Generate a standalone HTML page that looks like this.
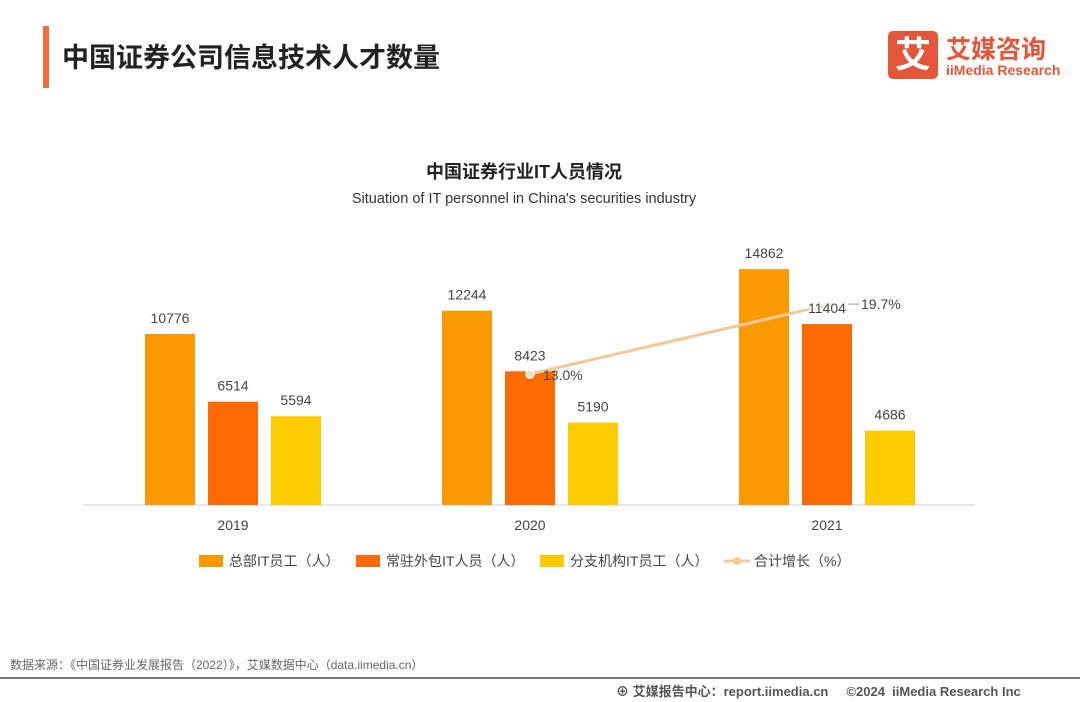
<!DOCTYPE html>
<html><head><meta charset="utf-8"><style>
body{margin:0;width:1080px;height:702px;background:#fff;font-family:"Liberation Sans","Noto Sans CJK SC",sans-serif;overflow:hidden;position:relative}
.a{position:absolute;white-space:nowrap}
</style></head><body>
<div class="a" style="left:43px;top:26px;width:6px;height:62px;background:#f26c3a"></div>
<div class="a" style="left:62px;top:36px;font-size:27px;font-weight:bold;color:#222">中国证券公司信息技术人才数量</div>
<div class="a" style="left:888px;top:31px;width:50px;height:48px;background:#e5553a;border-radius:5px;color:#fff;font-size:36px;font-weight:bold;text-align:center;line-height:48px">艾</div>
<div class="a" style="left:946px;top:30px;font-size:25px;font-weight:bold;color:#e5553a">艾媒咨询</div>
<div class="a" style="left:946px;top:62px;font-size:14px;font-weight:bold;color:#e5553a">iiMedia Research</div>
<div class="a" style="left:0;width:1048px;text-align:center;top:158px;font-size:18px;font-weight:bold;color:#222">中国证券行业IT人员情况</div>
<div class="a" style="left:0;width:1048px;text-align:center;top:191px;font-size:14.5px;color:#333">Situation of IT personnel in China's securities industry</div>
<svg class="a" style="left:0;top:0" width="1080" height="702">
<g id="g"></g>
</svg>
<div class="a" style="left:10px;top:656px;font-size:12px;color:#666">数据来源：《中国证券业发展报告（2022）》，艾媒数据中心（data.iimedia.cn）</div>
<div class="a" style="left:0;top:677px;width:1080px;height:2px;background:#777"></div>
<div class="a" style="left:616px;top:681px;font-size:13px;font-weight:bold;color:#555">⊕ 艾媒报告中心：report.iimedia.cn &nbsp;&nbsp;&nbsp; ©2024 &nbsp;iiMedia Research Inc</div>
<script>
const years=['2019','2020','2021'];
const hq=[10776,12244,14862];
const resident=[6514,8423,11404];
const branch=[5594,5190,4686];
const growthYears=['2020','2021'];
const growth=[13.0,19.7];
const seriesNames=['总部IT员工（人）','常驻外包IT人员（人）','分支机构IT员工（人）','合计增长（%）'];
const colors=['#fb9a00','#fe6a00','#fecb00','#f5c89a'];
const NS='http://www.w3.org/2000/svg';
const g=document.getElementById('g');
const base=505;
const xC=i=>233+i*297;
const yV=v=>base-v*0.01587;
const yP=v=>508-v*10.3;
function mk(t,at){const e=document.createElementNS(NS,t);for(const k in at)e.setAttribute(k,at[k]);g.appendChild(e);return e;}
let ax=mk('line',{x1:83,x2:975,y1:base,y2:base,stroke:'#ccc'});


const series=[hq,resident,branch];
years.forEach((y,i)=>{
 let t=mk('text',{x:xC(i),y:base+25,'text-anchor':'middle','font-size':14,fill:'#444'});t.textContent=y;
 
 
 series.forEach((s,j)=>{
  const cx=xC(i)+(j-1)*63;
  let r=mk('rect',{x:cx-25,y:yV(s[i]),width:50,height:base-yV(s[i]),fill:colors[j]});
  
  
 });
});
const pts=growth.map((v,i)=>[xC(years.indexOf(growthYears[i])),yP(v)]);
let pl=mk('polyline',{points:pts.map(p=>p.join(',')).join(' '),fill:'none',stroke:colors[3],'stroke-width':3});


pts.forEach((p,i)=>{
 let c=mk('circle',{cx:p[0],cy:p[1],r:4,fill:'#f7dcc0',stroke:'#fff','stroke-width':1.5});
 
 
});
years.forEach((y,i)=>{
 series.forEach((s,j)=>{
  const cx=xC(i)+(j-1)*63;
  let l=mk('text',{x:cx,y:yV(s[i])-11,'text-anchor':'middle','font-size':14,fill:'#444',stroke:'#fff','stroke-width':3,'paint-order':'stroke'});l.textContent=s[i];
  
  
 });
});
pts.forEach((p,i)=>{
 let t=mk('text',{x:p[0]+13,y:p[1]+6,'font-size':14,fill:'#444'});t.textContent=growth[i].toFixed(1)+'%';
 if(i==1){t.setAttribute('x',p[0]+34);t.setAttribute('y',p[1]+4);
  mk('line',{x1:p[0]+21,x2:p[0]+32,y1:p[1]-1,y2:p[1]-1,stroke:'#999','stroke-width':1});}
 
 
});
const lx=[199,356,540,724];
seriesNames.forEach((n,j)=>{
 if(j<3){let r=mk('rect',{x:lx[j],y:555,width:24,height:12,fill:colors[j]});
  
  }
 else{let l=mk('line',{x1:lx[j],x2:lx[j]+26,y1:561,y2:561,stroke:colors[3],'stroke-width':3});
  
  
  mk('circle',{cx:lx[j]+13,cy:561,r:4,fill:colors[3]});}
 let t=mk('text',{x:lx[j]+30,y:566,'font-size':14,fill:'#444'});t.textContent=n;
 
 
});
</script>
</body></html>
